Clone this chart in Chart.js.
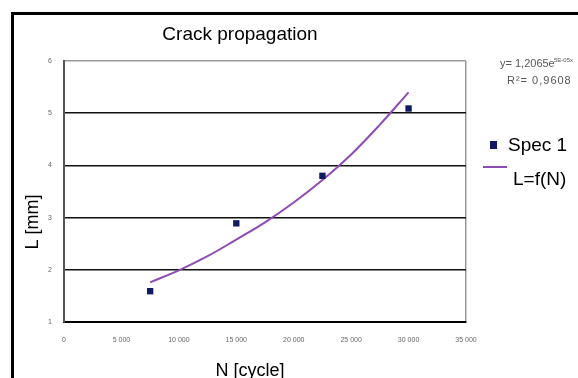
<!DOCTYPE html>
<html>
<head>
<meta charset="utf-8">
<script src="https://cdn.jsdelivr.net/npm/chart.js@4/dist/chart.umd.min.js"></script>
<style>
  html, body { margin: 0; padding: 0; background: #fff; }
  #wrap { position: relative; width: 578px; height: 378px; }
</style>
</head>
<body>
<div id="wrap"><canvas id="chart" width="578" height="378"></canvas></div>
<script>
// data
const cycles = [7500, 15000, 22500, 30000];
const crackLength = [1.59, 2.89, 3.80, 5.09];
// trend line L=f(N)
const trendCycles = [7500, 10000, 12500, 15000, 17500, 20000, 22500, 25000, 27500, 30000];
const trendLength = [1.76, 1.99, 2.26, 2.58, 2.91, 3.29, 3.72, 4.21, 4.78, 5.40];
const xTicks = [0, 5000, 10000, 15000, 20000, 25000, 30000, 35000];
const yTicks = [1, 2, 3, 4, 5, 6];

const tickFont = { family: 'Liberation Sans', size: 7 };

// texts around the plot
const extras = {
  id: 'extras',
  beforeDraw(chart) {
    const c = chart.ctx;
    c.save();
    c.fillStyle = '#fff';
    c.fillRect(0, 0, chart.width, chart.height);
    // outer frame
    c.strokeStyle = '#000';
    c.lineWidth = 3;
    c.beginPath();
    c.moveTo(12.5, 380);
    c.lineTo(12.5, 13.5);
    c.lineTo(580, 13.5);
    c.stroke();
    c.restore();
  },
  afterDraw(chart) {
    const c = chart.ctx;
    c.save();
    c.fillStyle = '#000';
    c.textBaseline = 'middle';
    c.textAlign = 'center';
    c.font = '19px "Liberation Sans"';
    c.fillText('Crack propagation', 240, 35);

    c.font = '18px "Liberation Sans"';
    c.fillText('N [cycle]', 250, 371);
    c.save();
    c.translate(33, 222);
    c.rotate(-Math.PI / 2);
    c.fillText('L [mm]', 0, 0);
    c.restore();

    // trend equation
    c.fillStyle = '#555';
    c.textAlign = 'left';
    c.font = '11px "Liberation Sans"';
    c.fillText('y= 1,2065e', 500, 64);
    c.font = '6px "Liberation Sans"';
    c.fillText('5E-05x', 554, 60);
    c.font = '11px "Liberation Sans"';
    c.letterSpacing = '1px';
    c.fillText('R\u00b2= 0,9608', 507, 81);
    c.letterSpacing = '0px';

    // legend
    c.fillStyle = '#101a60';
    c.fillRect(490, 141, 7, 8);
    c.fillStyle = '#000';
    c.font = '19px "Liberation Sans"';
    c.fillText('Spec 1', 508, 146);
    c.strokeStyle = '#8e4bb4';
    c.lineWidth = 2;
    c.beginPath();
    c.moveTo(483, 167);
    c.lineTo(507, 167);
    c.stroke();
    c.fillText('L=f(N)', 513, 180);
    c.restore();
  }
};

new Chart(document.getElementById('chart'), {
  type: 'scatter',
  data: {
    datasets: [
      {
        label: 'Spec 1',
        data: cycles.map((n, i) => ({ x: n, y: crackLength[i] })),
        pointStyle: 'rect',
        pointRadius: 4.5,
        backgroundColor: '#101a60',
        borderColor: '#101a60',
        borderWidth: 0
      },
      {
        label: 'L=f(N)',
        type: 'line',
        data: trendCycles.map((n, i) => ({ x: n, y: trendLength[i] })),
        showLine: true,
        borderColor: '#8e4bb4',
        borderWidth: 2,
        pointRadius: 0,
        tension: 0.4,
        fill: false
      }
    ]
  },
  options: {
    responsive: false,
    animation: false,
    layout: { padding: { top: 61, right: 112, left: 0, bottom: 0 } },
    plugins: { legend: { display: false }, tooltip: { enabled: false }, title: { display: false } },
    scales: {
      x: {
        type: 'linear',
        min: 0,
        max: 35000,
        afterBuildTicks: s => { s.ticks = xTicks.map(v => ({ value: v })); },
        afterFit: s => { s.height = 56; },
        ticks: {
          font: tickFont,
          color: '#666',
          padding: 14,
          maxRotation: 0,
          autoSkip: false,
          callback: v => v === 0 ? '0' : String(v).replace(/(\d)(\d{3})$/, '$1 $2')
        },
        grid: {
          drawTicks: false,
          color: ctx => ctx.tick && ctx.tick.value === 35000 ? '#999' : 'rgba(0,0,0,0)',
          lineWidth: 1.5
        },
        border: { color: '#000', width: 2 }
      },
      y: {
        min: 1,
        max: 6,
        afterBuildTicks: s => { s.ticks = yTicks.map(v => ({ value: v })); },
        afterFit: s => { s.width = 64; },
        ticks: { font: tickFont, color: '#666', padding: 12, autoSkip: false },
        grid: {
          drawTicks: false,
          color: ctx => ctx.tick && ctx.tick.value === 6 ? '#999' : '#111',
          lineWidth: 1.5
        },
        border: { color: '#555', width: 2 }
      }
    }
  },
  plugins: [extras]
});
</script>
</body>
</html>
